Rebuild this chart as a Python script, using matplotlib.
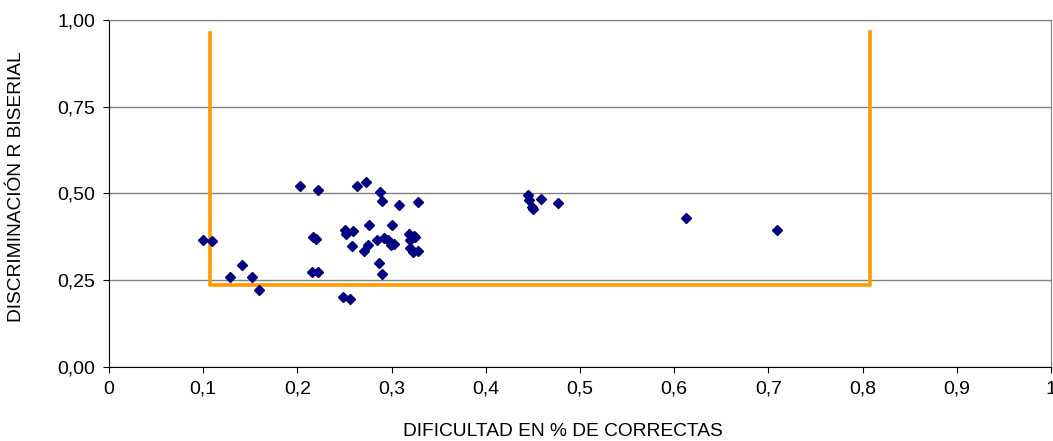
import matplotlib.pyplot as plt
from matplotlib.ticker import FuncFormatter

plt.rcParams['font.family'] = ['Liberation Sans', 'DejaVu Sans']

# Item difficulty (proportion correct) and biserial discrimination
dificultad = [0.203, 0.222, 0.263, 0.273, 0.288, 0.290, 0.308, 0.328,
              0.0996, 0.1095, 0.141, 0.1286, 0.1516, 0.159,
              0.2165, 0.220, 0.216, 0.222, 0.248, 0.256,
              0.251, 0.252, 0.259, 0.258, 0.276, 0.271, 0.2745,
              0.2866, 0.290, 0.285, 0.2915, 0.296, 0.301, 0.299, 0.303,
              0.319, 0.325, 0.320, 0.320, 0.323, 0.3276, 0.324,
              0.445, 0.4456, 0.459, 0.450, 0.449, 0.477, 0.613, 0.709]
discriminacion = [0.522, 0.511, 0.520, 0.534, 0.505, 0.479, 0.466, 0.475,
                  0.366, 0.363, 0.294, 0.260, 0.260, 0.221,
                  0.375, 0.368, 0.273, 0.273, 0.201, 0.195,
                  0.395, 0.383, 0.393, 0.347, 0.409, 0.334, 0.350,
                  0.299, 0.269, 0.366, 0.370, 0.366, 0.408, 0.350, 0.354,
                  0.383, 0.373, 0.366, 0.342, 0.331, 0.335, 0.376,
                  0.494, 0.481, 0.484, 0.455, 0.460, 0.471, 0.429, 0.395]

# Acceptance region bracket
limite_x = [0.107, 0.107, 0.808, 0.808]
limite_y = [0.962, 0.236, 0.236, 0.965]

fig = plt.figure(figsize=(10.53, 4.41), dpi=100)
ax = fig.add_axes([0.1035, 0.168, 0.8945, 0.787])

ax.plot(limite_x, limite_y, color='#FF9900', lw=2.6, zorder=2)
ax.plot(dificultad, discriminacion, 'D', color='#000080', ms=5.5, lw=0, zorder=3)

ax.set_xlim(0, 1)
ax.set_ylim(0, 1)
ax.set_xticks([0, 0.1, 0.2, 0.3, 0.4, 0.5, 0.6, 0.7, 0.8, 0.9, 1])
ax.set_yticks([0, 0.25, 0.5, 0.75, 1.0])
ax.xaxis.set_major_formatter(FuncFormatter(lambda v, p: '0' if v == 0 else ('1' if v == 1 else f'{v:.1f}'.replace('.', ','))))
ax.yaxis.set_major_formatter(FuncFormatter(lambda v, p: f'{v:.2f}'.replace('.', ',')))

ax.yaxis.grid(True, color='#808080', lw=1)
ax.set_axisbelow(True)
for s in ['top', 'right']:
    ax.spines[s].set_color('#808080')
for s in ['left', 'bottom']:
    ax.spines[s].set_color('black')
ax.tick_params(direction='out', length=4, labelsize=14, pad=6)

ax.set_xlabel('DIFICULTAD EN % DE CORRECTAS', fontsize=13.8)
ax.set_ylabel('DISCRIMINACIÓN R BISERIAL', fontsize=13.8)
ax.xaxis.set_label_coords(0.482, -0.162)
ax.yaxis.set_label_coords(-0.089, 0.519)

fig.savefig('out.png', dpi=100)
